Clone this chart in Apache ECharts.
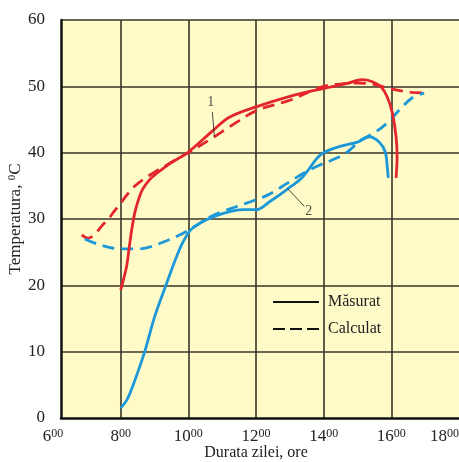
<!DOCTYPE html>
<html>
<head>
<meta charset="utf-8">
<script src="https://cdn.jsdelivr.net/npm/echarts@6/dist/echarts.min.js"></script>
<style>
html,body{margin:0;padding:0;background:#fff;}
#chart{width:459px;height:462px;}
</style>
</head>
<body>
<div id="chart"></div>
<script>
// ---- data (hours, °C) ----
var xTicks = [6, 8, 10, 12, 14, 16, 18];
var yTicks = [0, 10, 20, 30, 40, 50, 60];
var legendNames = ['Măsurat', 'Calculat'];

var measured1 = [[8.0,19.3],[8.09,21.0],[8.18,23.0],[8.26,26.0],[8.33,28.5],[8.42,31.0],[8.52,32.8],[8.65,34.5],[8.85,35.9],[9.07,36.9],[9.5,38.5],[10.0,40.1],[10.7,43.2],[11.2,45.3],[12.0,46.9],[13.0,48.5],[14.0,49.7],[14.67,50.4],[15.14,51.0],[15.44,50.7],[15.7,49.9],[15.88,48.4],[16.03,46.0],[16.14,42.4],[16.17,39.3],[16.14,36.2]];
var calculated1 = [[6.85,27.6],[7.03,27.1],[7.17,27.4],[7.29,28.0],[7.45,29.0],[7.62,29.9],[7.8,31.1],[8.03,32.6],[8.4,34.9],[8.95,36.9],[9.45,38.4],[10.0,40.0],[10.77,42.4],[11.22,43.9],[12.0,46.3],[13.0,47.9],[13.5,49.0],[14.0,50.0],[14.6,50.4],[15.0,50.5],[15.5,50.3],[16.0,49.6],[16.6,49.1],[16.98,49.0]];
var measured2 = [[8.0,1.5],[8.18,2.7],[8.35,4.7],[8.71,10.0],[9.0,15.2],[9.33,19.9],[9.65,24.3],[9.85,26.6],[10.12,28.6],[10.68,30.2],[11.22,31.1],[11.6,31.4],[12.0,31.4],[12.4,32.6],[12.9,34.4],[13.37,36.3],[13.81,39.2],[14.0,40.0],[14.46,40.9],[15.0,41.6],[15.35,42.4],[15.64,41.6],[15.82,40.1],[15.88,37.8],[15.91,36.2]];
var calculated2 = [[6.94,27.0],[7.38,26.1],[7.97,25.5],[8.56,25.5],[9.15,26.3],[9.74,27.6],[10.2,28.9],[10.6,30.2],[11.1,31.3],[11.72,32.4],[12.34,33.6],[12.93,35.4],[13.4,36.9],[13.87,38.1],[14.3,39.0],[14.7,40.1],[15.1,41.9],[15.5,43.0],[15.88,44.5],[16.25,46.5],[16.6,48.2],[16.97,49.0]];

// curve annotations: leader line ends and number labels
var leader1 = [[10.71,46.1],[10.77,42.4]];
var leader2 = [[12.93,34.6],[13.43,31.9]];
var curveLabels = [[10.66,47.6,'1'],[13.56,31.2,'2']];

var FONT = 'Liberation Serif';
var RED = '#E3262B';
var BLUE = '#1C98D8';
var GRIDLINE = '#3a3527';

var chart = echarts.init(document.getElementById('chart'), null, {renderer: 'canvas'});

var option = {
  animation: false,
  backgroundColor: '#ffffff',
  grid: [
    {left: 61, right: 0, top: 20, bottom: 44, show: true, backgroundColor: '#FFFBC8', borderWidth: 0, outerBoundsMode: 'none', containLabel: false},
    {left: 53, right: 0, top: 20, bottom: 44, show: false, outerBoundsMode: 'none', containLabel: false}
  ],
  legend: {
    data: legendNames,
    orient: 'vertical',
    left: 272,
    top: 294,
    padding: 0,
    itemWidth: 46,
    itemHeight: 14,
    itemGap: 11,
    itemStyle: {color: 'rgba(0,0,0,0)', borderWidth: 0, opacity: 0},
    textStyle: {fontFamily: FONT, fontSize: 16, color: '#222', padding: [0,0,0,4]}
  },
  xAxis: [
    {
      gridIndex: 0, type: 'value', min: 6.236, max: 18,
      axisLine: {show: true, lineStyle: {color: '#111', width: 2.5}},
      axisTick: {show: false}, axisLabel: {show: false}, splitLine: {show: false}
    },
    {
      gridIndex: 1, type: 'value', min: xTicks[0], max: xTicks[xTicks.length-1], interval: 2,
      axisLine: {show: false}, axisTick: {show: false},
      splitLine: {show: true, showMinLine: false, showMaxLine: false, lineStyle: {color: GRIDLINE, width: 1.6}},
      axisLabel: {
        margin: 10, alignMaxLabel: 'right',
        formatter: function (v) { return '{a|' + v + '}{b|00}'; },
        rich: {
          a: {fontFamily: FONT, fontSize: 17, lineHeight: 18, color: '#222'},
          b: {fontFamily: FONT, fontSize: 12, lineHeight: 12, verticalAlign: 'top', color: '#222'}
        }
      },
      name: 'Durata zilei, ore', nameLocation: 'middle', nameGap: 27, nameMoveOverlap: false,
      nameTextStyle: {fontFamily: FONT, fontSize: 16, color: '#222'}
    }
  ],
  yAxis: [
    {
      gridIndex: 0, type: 'value', min: yTicks[0], max: yTicks[yTicks.length-1], interval: 10,
      axisLine: {show: true, lineStyle: {color: '#111', width: 2.5}},
      axisTick: {show: false},
      axisLabel: {margin: 16, fontFamily: FONT, fontSize: 17, color: '#222'},
      splitLine: {show: true, showMinLine: false, showMaxLine: true, lineStyle: {color: GRIDLINE, width: 1.6}},
      name: 'Temperatura, {s|0}C', nameLocation: 'middle', nameGap: 37, nameMoveOverlap: false,
      nameTextStyle: {
        fontFamily: FONT, fontSize: 17, lineHeight: 17, color: '#222',
        rich: {s: {fontFamily: FONT, fontSize: 11, lineHeight: 11, verticalAlign: 'top', color: '#222'}}
      }
    },
    {gridIndex: 1, type: 'value', min: 0, max: 60, show: false}
  ],
  series: [
    {name: legendNames[0], type: 'line', data: [], symbol: 'none', lineStyle: {color: '#111', width: 3, type: 'solid'}, itemStyle: {color: '#111'}},
    {name: legendNames[1], type: 'line', data: [], symbol: 'none', lineStyle: {color: '#111', width: 3, type: [12,5]}, itemStyle: {color: '#111'}},
    {name: 'c1', type: 'line', data: calculated1, smooth: 0.35, symbol: 'none', lineStyle: {color: RED, width: 2.8, type: [12,7]}, z: 3},
    {name: 'c2', type: 'line', data: calculated2, smooth: 0.35, symbol: 'none', lineStyle: {color: BLUE, width: 2.8, type: [12,7]}, z: 3},
    {name: 'm1', type: 'line', data: measured1, smooth: 0.35, symbol: 'none', lineStyle: {color: RED, width: 2.8}, z: 4},
    {name: 'm2', type: 'line', data: measured2, smooth: 0.35, symbol: 'none', lineStyle: {color: BLUE, width: 2.8}, z: 4},
    {name: 'l1', type: 'line', data: leader1, symbol: 'none', silent: true, lineStyle: {color: '#333', width: 0.9}, z: 5},
    {name: 'l2', type: 'line', data: leader2, symbol: 'none', silent: true, lineStyle: {color: '#333', width: 0.9}, z: 5},
    {
      name: 'labels', type: 'scatter', data: curveLabels, symbolSize: 0, silent: true, z: 6,
      label: {show: true, position: 'inside', formatter: function (p) { return p.data[2]; },
        fontFamily: FONT, fontSize: 14, color: '#222'}
    }
  ]
};
chart.setOption(option);
</script>
</body>
</html>
